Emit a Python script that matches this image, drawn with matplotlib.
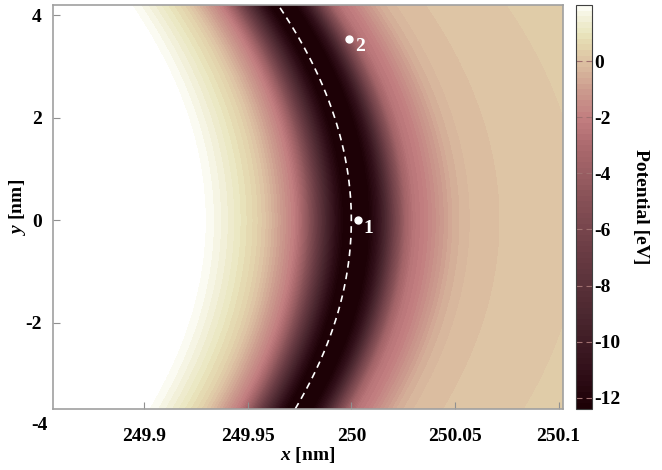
import numpy as np
import matplotlib
matplotlib.use("Agg")
import matplotlib.pyplot as plt
from matplotlib.colors import LinearSegmentedColormap

# radial potential profile: r - 250 nm -> potential (eV)
dr_nm = [-0.150, -0.070, -0.0614, -0.0537, -0.0465, -0.0416, -0.0344, -0.0281,
         -0.0247, -0.0214, -0.0175, -0.0127, -0.0079, -0.0045, 0.0023, 0.0090,
         0.0129, 0.0167, 0.0206, 0.0235, 0.0264, 0.0302, 0.0355, 0.0428,
         0.0500, 0.0573, 0.0717, 0.1026, 0.1350]
potential = [4.0, 2.0, 1.5, 1.0, 0.5, 0.0, -1.0, -2.0,
             -3.0, -4.5, -6.5, -9.0, -11.2, -12.2, -12.3, -12.2,
             -11.0, -9.0, -6.5, -5.0, -3.5, -2.5, -2.0, -1.2,
             -0.5, -0.2, 0.0, 0.15, 0.35]

ring_radius = 250.0
marked_x = [250.003, 249.999]
marked_y = [0.0, 3.54]
marked_labels = ["1", "2"]

cbar_ticks = [0, -2, -4, -6, -8, -10, -12]
x_ticks = [249.9, 249.95, 250, 250.05, 250.1]
x_tick_labels = ["249.9", "249.95", "250", "250.05", "250.1"]
y_ticks = [-2, 0, 2, 4]

plt.rcParams["font.family"] = ["Liberation Serif", "DejaVu Serif"]
plt.rcParams["font.weight"] = "bold"
plt.rcParams["axes.unicode_minus"] = False
plt.rcParams["mathtext.fontset"] = "custom"
plt.rcParams["mathtext.it"] = "Liberation Serif:italic:bold"
plt.rcParams["mathtext.rm"] = "Liberation Serif:bold"

vmin, vmax = -12.4, 2.0
cmap_nodes = [(-12.4, "#1c0005"), (-11.0, "#32101a"), (-9.0, "#4c2830"),
              (-7.0, "#673a42"), (-5.0, "#865056"), (-3.0, "#ac6a6e"),
              (-2.0, "#c27e80"), (-1.0, "#cc9c8e"), (0.0, "#dcc0a2"),
              (0.5, "#e3d3ac"), (1.0, "#e9e5bc"), (1.5, "#f1efd6"),
              (2.0, "#fcfcf6")]
cmap = LinearSegmentedColormap.from_list(
    "pot", [((v - vmin) / (vmax - vmin), c) for v, c in cmap_nodes])

xmin, xmax = 249.856, 250.102
ymin, ymax = -3.68, 4.2
x = np.linspace(xmin, xmax, 700)
y = np.linspace(ymin, ymax, 700)
X, Y = np.meshgrid(x, y)
R = np.sqrt(X**2 + Y**2) - ring_radius
Z = np.interp(R, dr_nm, potential)

fig = plt.figure(figsize=(6.62, 4.70), dpi=100)
ax = fig.add_axes([0.080, 0.130, 0.770, 0.859])
cax = fig.add_axes([0.870, 0.130, 0.024, 0.859])

levels = np.linspace(vmin, vmax, 73)
cf = ax.contourf(X, Y, Z, levels=levels, cmap=cmap, vmin=vmin, vmax=vmax)

# dashed ring
yy = np.linspace(ymin, ymax, 300)
ax.plot(np.sqrt(ring_radius**2 - yy**2), yy, color="white", ls=(0, (4, 3)), lw=1.2)

ax.plot(marked_x, marked_y, "o", color="white", ms=5)
for mx, my, lab in zip(marked_x, marked_y, marked_labels):
    ax.annotate(lab, (mx, my), xytext=(4, -9), textcoords="offset points",
                color="white", fontsize=14, fontweight="bold")

ax.set_xlim(xmin, xmax)
ax.set_ylim(ymin, ymax)
ax.set_xticks(x_ticks)
ax.set_xticklabels(x_tick_labels)
ax.set_yticks(y_ticks)
ax.tick_params(direction="in", length=5, color="#909090", labelsize=14, pad=8)
ax.tick_params(axis="x", pad=14)
for sp in ax.spines.values():
    sp.set_color("#a0a0a0")
    sp.set_linewidth(1.2)
# the -4 label sits below the plot area in the original
ax.annotate("-4", xy=(0, -4), xycoords=("axes fraction", "data"),
            xytext=(-4, 0), textcoords="offset points", ha="right", va="center",
            fontsize=14, fontweight="bold", annotation_clip=False)

ax.set_xlabel("$x$ [nm]", fontsize=14, fontweight="bold", labelpad=0)
ax.set_ylabel("$y$ [nm]", fontsize=14, fontweight="bold", labelpad=-2)

cb = fig.colorbar(cf, cax=cax, ticks=cbar_ticks)
cb.outline.set_edgecolor("#404040")
cb.ax.tick_params(direction="in", length=4, color="#a07070", labelsize=14,
                  left=True, right=True, pad=2)
cb.set_label("Potential [eV]", rotation=270, fontsize=14, fontweight="bold", labelpad=20)

fig.savefig("out.png", dpi=100)
